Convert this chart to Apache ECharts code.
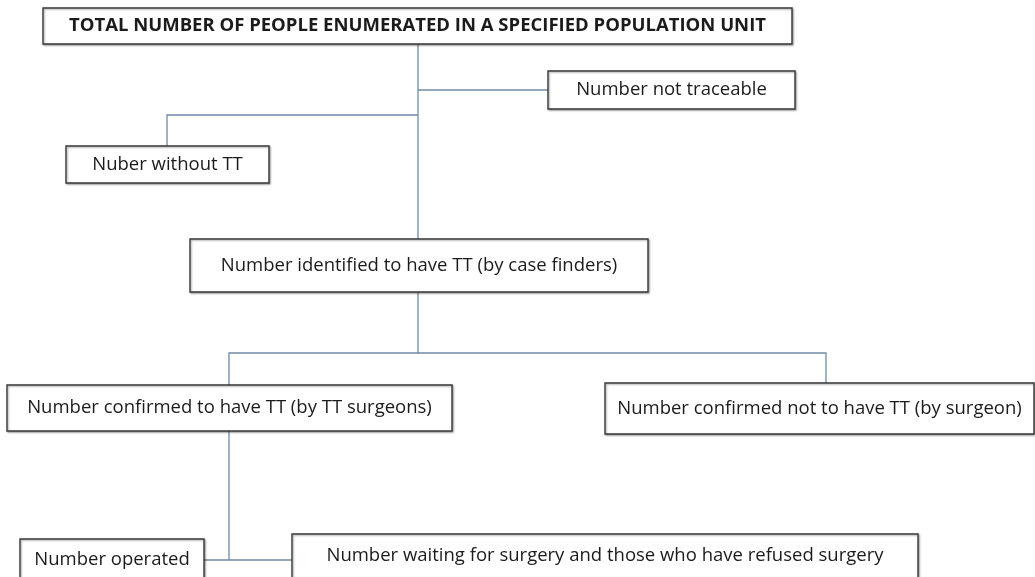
<!DOCTYPE html>
<html>
<head>
<meta charset="utf-8">
<script src="https://cdn.jsdelivr.net/npm/echarts@6/dist/echarts.min.js"></script>
<style>
  html, body { margin: 0; padding: 0; background: #fff; }
  #chart { width: 1035px; height: 577px; }
</style>
</head>
<body>
<div id="chart"></div>
<script>
// node texts, top to bottom
const nodeLabels = [
  'TOTAL NUMBER OF PEOPLE ENUMERATED IN A SPECIFIED POPULATION UNIT',
  'Number not traceable',
  'Nuber without TT',
  'Number identified to have TT (by case finders)',
  'Number confirmed to have TT (by TT surgeons)',
  'Number confirmed not to have TT (by surgeon)',
  'Number operated',
  'Number waiting for surgery and those who have refused surgery'
]
const boldNodes = [0]

// layout: box corners in page units [x0, y0, x1, y1]
const nodeBoxes = [
  [43, 8, 792, 44],
  [548, 71, 795, 109],
  [66, 146, 269, 183],
  [190, 239, 648, 292],
  [7, 385, 452, 431],
  [605, 383, 1034, 434],
  [20, 539, 204, 581],
  [292, 534, 918, 578]
]

// connector paths (elbows)
const connectorPaths = [
  [[418, 44], [418, 239]],
  [[418, 90], [548, 90]],
  [[418, 115], [167, 115], [167, 146]],
  [[418, 292], [418, 353]],
  [[229, 385], [229, 353], [826, 353], [826, 383]],
  [[229, 431], [229, 560]],
  [[204, 560], [292, 560]]
]

const chart = echarts.init(document.getElementById('chart'))

const option = {
  animation: false,
  grid: { left: 0, right: 0, top: 0, bottom: 0 },
  xAxis: { type: 'value', min: 0, max: 1035, show: false },
  yAxis: { type: 'value', min: 0, max: 577, inverse: true, show: false },
  series: [
    {
      type: 'lines',
      coordinateSystem: 'cartesian2d',
      polyline: true,
      silent: true,
      lineStyle: { color: '#6f8ba6', width: 1.3, opacity: 1 },
      data: connectorPaths.map(p => ({ coords: p }))
    },
    {
      type: 'custom',
      coordinateSystem: 'cartesian2d',
      silent: true,
      data: nodeBoxes.map((b, i) => [b[0], b[1], b[2], b[3], i]),
      encode: { x: [0, 2], y: [1, 3] },
      renderItem: function (params, api) {
        const p0 = api.coord([api.value(0), api.value(1)])
        const p1 = api.coord([api.value(2), api.value(3)])
        const idx = api.value(4)
        const bold = boldNodes.indexOf(idx) >= 0
        return {
          type: 'group',
          children: [
            {
              type: 'rect',
              shape: { x: p0[0], y: p0[1], width: p1[0] - p0[0], height: p1[1] - p0[1] },
              style: {
                fill: '#fff',
                stroke: '#3a3a3a',
                lineWidth: 1.4,
                shadowBlur: 2,
                shadowOffsetX: 1,
                shadowOffsetY: 1,
                shadowColor: 'rgba(0,0,0,0.35)'
              }
            },
            {
              type: 'text',
              style: {
                x: (p0[0] + p1[0]) / 2,
                y: (p0[1] + p1[1]) / 2,
                text: nodeLabels[idx],
                align: 'center',
                verticalAlign: 'middle',
                fill: '#1b1b1b',
                fontFamily: 'Open Sans',
                fontWeight: bold ? 'bold' : 'normal',
                fontSize: bold ? 18.5 : 18.5
              }
            }
          ]
        }
      }
    }
  ]
}

option && chart.setOption(option)

window.addEventListener('resize', function () {
  chart.resize()
})
</script>
</body>
</html>
